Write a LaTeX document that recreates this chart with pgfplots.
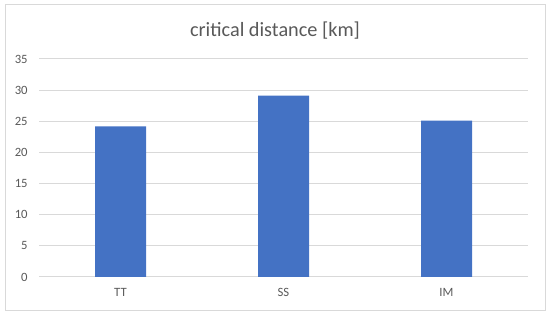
\documentclass[border=0pt]{standalone}
\usepackage{pgfplots}
\pgfplotsset{compat=1.18}
\usepackage{fontspec}
\setmainfont{Carlito}
\definecolor{barblue}{HTML}{4472C4}
\definecolor{txtgray}{HTML}{595959}
\definecolor{gridgray}{HTML}{D9D9D9}
\begin{document}
\begin{tikzpicture}
\path[use as bounding box] (0,0) rectangle (412.5pt,237pt);
\draw[gridgray, line width=0.75pt] (3.75pt,4pt) rectangle (408.75pt,233.25pt);
\node[txtgray, font=\fontsize{15.2}{17}\selectfont] at (206.25pt,214pt) {critical distance [km]};
\begin{axis}[
  at={(29.25pt,29.25pt)}, anchor=south west,
  scale only axis, width=366.75pt, height=163.5pt,
  xmin=-0.5, xmax=2.5, ymin=0, ymax=35,
  xtick=data, xticklabels={TT,SS,IM},
  ytick={0,5,...,35},
  ymajorgrids, grid style={gridgray, line width=0.75pt},
  axis line style={draw=none},
  major tick length=0pt, tick style={draw=none},
  ticklabel style={txtgray, font=\fontsize{9.5}{10}\selectfont},
  /pgf/number format/assume math mode=true,
  yticklabel style={xshift=-5pt},
  xticklabel style={yshift=-5pt},
]
\addplot[ybar, bar width=38.25pt, fill=barblue, draw=none] coordinates {(0,24.2) (1,29.1) (2,25.1)};
\end{axis}
\end{tikzpicture}
\end{document}
